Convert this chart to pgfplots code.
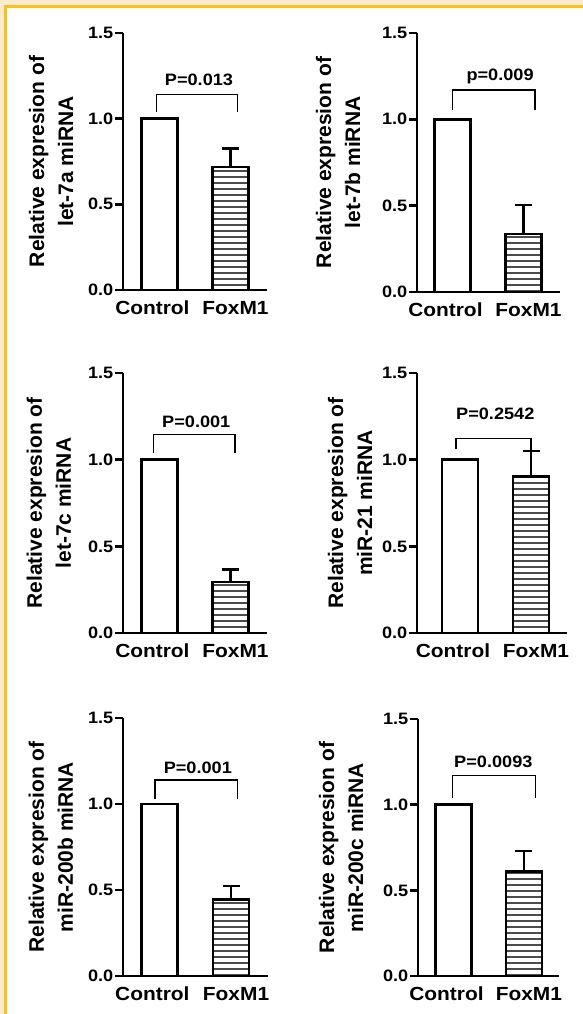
\documentclass[border=0pt]{standalone}
\usepackage{fontspec}
\setmainfont{Liberation Sans}[FakeStretch=1.1]
\newfontfamily\ylabfont{Liberation Sans}
\usepackage{pgfplots}
\pgfplotsset{compat=1.18}
\usetikzlibrary{patterns}
\definecolor{cream}{HTML}{FCEBCB}
\definecolor{gold}{HTML}{F7C21E}

\pgfdeclarepatternformonly{hlinessix}{\pgfqpoint{-1bp}{-1bp}}{\pgfqpoint{61bp}{7bp}}{\pgfqpoint{60bp}{6bp}}%
{\pgfsetlinewidth{1.2bp}\pgfpathmoveto{\pgfqpoint{-1bp}{3bp}}\pgfpathlineto{\pgfqpoint{61bp}{3bp}}\pgfusepath{stroke}}

\pgfplotsset{
  mirpanel/.style={
    scale only axis, anchor=south west,
    ymin=0, ymax=1.5,
    axis x line=bottom, axis y line=left,
    axis line style={line width=2.5bp, -, black},
    ytick={0,0.5,1,1.5},
    ytick align=outside, xtick align=inside,
    major tick length=8bp,
    tick style={line width=2.5bp, black},
    xtick style={draw=none},
    xtick={-0.1,1.07},
    xticklabels={Control,FoxM1},
    xticklabel style={font=\fontsize{19bp}{19bp}\selectfont\bfseries, anchor=base, yshift=-25bp},
    yticklabel style={font=\fontsize{16.5bp}{16.5bp}\selectfont\bfseries, inner sep=1.5bp},
    /pgf/number format/assume math mode=true,
    /pgf/number format/fixed, /pgf/number format/fixed zerofill, /pgf/number format/precision=1,
    ylabel style={font=\ylabfont\fontsize{21bp}{29bp}\selectfont\bfseries, align=center, anchor=center},
    clip=false,
  },
  ctrlbar/.style={ybar, bar width=36bp, bar shift=0pt, fill=white, draw=black, line width=2.5bp},
  foxbar/.style={ybar, bar width=36bp, bar shift=0pt, draw=black, line width=2.5bp,
    pattern=hlinessix, pattern color=black!70,
    error bars/.cd, y dir=plus, y explicit,
    error bar style={line width=2.5bp, black, solid},
    error mark options={rotate=90, mark size=8.5bp, line width=2.5bp, black}},
}
\tikzset{brk/.style={line width=1.5bp, black},
  plab/.style={font=\fontsize{16.5bp}{16.5bp}\selectfont\bfseries, anchor=center}}

\begin{document}
\begin{tikzpicture}[x=1bp,y=1bp]
\useasboundingbox (0,0) rectangle (583,1014);
% page frame
\fill[white] (0,0) rectangle (583,1014);
\fill[cream] (0,1009) rectangle (583,1014);
\fill[cream] (0,0) rectangle (4,1014);
\fill[gold] (4,1006) rectangle (583,1009);
\fill[gold] (4,0) rectangle (7,1009);

% Panel 1: let-7a
\begin{axis}[mirpanel, at={(123bp,724bp)}, width=144bp, height=257bp, xmin=-0.514, xmax=1.514,
  ylabel={Relative expresion of\\let-7a miRNA}, ylabel style={at={(axis description cs:-0.5,0.5)}}]
\addplot[ctrlbar] coordinates {(0,1)};
\addplot[foxbar] coordinates {(1,0.718) +- (0,0.107)};
\draw[brk] (axis cs:-0.04,1.041) -- (axis cs:-0.04,1.142) -- (axis cs:1.10,1.142) -- (axis cs:1.10,1.041);
\node[plab] at (axis cs:0.556,1.226) {P=0.013};
\end{axis}

% Panel 2: let-7b
\begin{axis}[mirpanel, at={(417bp,722bp)}, width=143bp, height=259bp, xmin=-0.5, xmax=1.514,
  ylabel={Relative expresion of\\let-7b miRNA}, ylabel style={at={(axis description cs:-0.552,0.5)}}]
\addplot[ctrlbar] coordinates {(0,1)};
\addplot[foxbar] coordinates {(1,0.337) +- (0,0.167)};
\draw[brk] (axis cs:0.0,1.053) -- (axis cs:0.0,1.169) -- (axis cs:1.16,1.169) -- (axis cs:1.16,1.053);
\node[plab] at (axis cs:0.67,1.246) {p=0.009};
\end{axis}

% Panel 3: let-7c
\begin{axis}[mirpanel, at={(123bp,381bp)}, width=144bp, height=260bp, xmin=-0.514, xmax=1.514,
  ylabel={Relative expresion of\\let-7c miRNA}, ylabel style={at={(axis description cs:-0.514,0.5)}}]
\addplot[ctrlbar] coordinates {(0,1)};
\addplot[foxbar] coordinates {(1,0.295) +- (0,0.070)};
\draw[brk] (axis cs:-0.087,1.037) -- (axis cs:-0.087,1.146) -- (axis cs:1.063,1.146) -- (axis cs:1.063,1.037);
\node[plab] at (axis cs:0.518,1.219) {P=0.001};
\end{axis}

% Panel 4: miR-21
\begin{axis}[mirpanel, at={(417bp,381bp)}, width=150bp, height=260bp, xmin=-0.606, xmax=1.507,
  ylabel={Relative expresion of\\miR-21 miRNA}, ylabel style={at={(axis description cs:-0.447,0.5)}}]
\addplot[ctrlbar] coordinates {(0,1)};
\addplot[foxbar] coordinates {(1,0.903) +- (0,0.146)};
\draw[brk] (axis cs:-0.06,1.06) -- (axis cs:-0.06,1.121) -- (axis cs:1.0,1.121) -- (axis cs:1.0,1.049);
\node[plab] at (axis cs:0.497,1.264) {P=0.2542};
\end{axis}

% Panel 5: miR-200b
\begin{axis}[mirpanel, at={(123bp,38bp)}, width=145bp, height=258bp, xmin=-0.51, xmax=1.517,
  ylabel={Relative expresion of\\miR-200b miRNA}, ylabel style={at={(axis description cs:-0.497,0.5)}}]
\addplot[ctrlbar] coordinates {(0,1)};
\addplot[foxbar] coordinates {(1,0.446) +- (0,0.078)};
\draw[brk] (axis cs:-0.063,1.029) -- (axis cs:-0.063,1.14) -- (axis cs:1.094,1.14) -- (axis cs:1.094,1.029);
\node[plab] at (axis cs:0.536,1.213) {P=0.001};
\end{axis}

% Panel 6: miR-200c
\begin{axis}[mirpanel, at={(418bp,38bp)}, width=141bp, height=257bp, xmin=-0.504, xmax=1.497,
  ylabel={Relative expresion of\\miR-200c miRNA}, ylabel style={at={(axis description cs:-0.546,0.5)}}]
\addplot[ctrlbar] coordinates {(0,1)};
\addplot[foxbar] coordinates {(1,0.609) +- (0,0.121)};
\draw[brk] (axis cs:-0.017,1.037) -- (axis cs:-0.017,1.169) -- (axis cs:1.166,1.169) -- (axis cs:1.166,1.037);
\node[plab] at (axis cs:0.565,1.251) {P=0.0093};
\end{axis}
\end{tikzpicture}
\end{document}
